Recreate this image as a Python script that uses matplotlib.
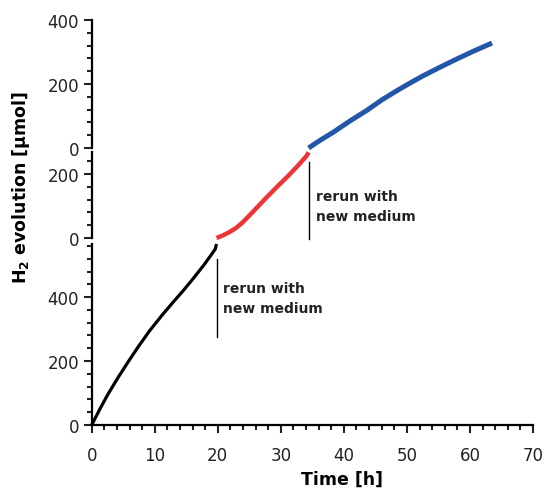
import numpy as np
import matplotlib
matplotlib.use('Agg')
from matplotlib import pyplot as plt
from matplotlib.ticker import MultipleLocator

plt.rcParams['font.family'] = ['DejaVu Sans']

# first run (black)
t_run1 = [0.0, 1.3, 2.6, 4.2, 5.8, 7.5, 9.2, 11.1, 13.0, 14.6, 16.1, 17.9, 19.6, 19.8]
h2_run1 = [0, 50, 97, 149, 198, 248, 295, 342, 386, 422, 458, 503, 550, 566]

# rerun 1 (red)
t_run2 = [19.8, 20.8, 21.8, 22.8, 23.8, 25.0, 26.2, 27.5, 29.4, 31.2, 32.7, 34.1, 34.4]
h2_run2 = [0, 8, 18, 30, 46, 70, 95, 122, 160, 195, 226, 257, 268]

# rerun 2 (blue)
t_run3 = [34.4, 36.3, 38.3, 41.0, 43.6, 46.0, 48.4, 50.5, 52.6, 55.2, 57.9, 60.5, 63.5]
h2_run3 = [0, 25, 49, 85, 117, 150, 179, 203, 226, 252, 278, 302, 328]

xticks = [0, 10, 20, 30, 40, 50, 60, 70]
note = 'rerun with\nnew medium'

W, H = 546, 489
fig = plt.figure(figsize=(W / 100, H / 100), dpi=100)

def box(top, bottom):
    return [91.7 / W, 1 - bottom / H, (533 - 91.7) / W, (bottom - top) / H]

ax_top = fig.add_axes(box(21, 149))
ax_mid = fig.add_axes(box(153, 239))
ax_bot = fig.add_axes(box(245, 426))

for ax in (ax_top, ax_mid, ax_bot):
    ax.set_xlim(0, 70)
    for s in ('top', 'right'):
        ax.spines[s].set_visible(False)
    ax.spines['left'].set_linewidth(1.6)
    ax.spines['bottom'].set_linewidth(1.6)
    ax.yaxis.set_major_locator(MultipleLocator(200))
    ax.yaxis.set_minor_locator(MultipleLocator(40))
    ax.tick_params(axis='y', which='major', length=6, width=1.5, labelsize=12, pad=3, colors='#222222')
    ax.tick_params(axis='y', which='minor', length=3.5, width=1.5, colors='#222222')
    ax.patch.set_visible(False)

for ax in (ax_top, ax_mid):
    ax.spines['bottom'].set_visible(False)
    ax.set_xticks([])

ax_top.set_ylim(0, 400)
ax_mid.set_ylim(0, 269)
ax_bot.set_ylim(0, 566)

ax_bot.set_xticks(xticks)
ax_bot.xaxis.set_minor_locator(MultipleLocator(2))
ax_bot.tick_params(axis='x', which='major', length=6, width=1.5, labelsize=12, pad=9, colors='#222222')
ax_bot.tick_params(axis='x', which='minor', length=3.5, width=1.5, colors='#222222')

ax_bot.plot(t_run1, h2_run1, color='black', lw=2.3, clip_on=False, solid_capstyle='butt')
ax_mid.plot(t_run2, h2_run2, color='#ee3535', lw=3.2, clip_on=False, solid_capstyle='butt')
ax_top.plot(t_run3, h2_run3, color='#2456a8', lw=3.6, clip_on=False, solid_capstyle='butt')

# rerun markers
ax_bot.plot([19.8, 19.8], [275, 519], color='black', lw=1, clip_on=False)
ax_bot.text(20.9, 397, note, fontsize=10, fontweight='bold', va='center', ha='left',
            linespacing=1.5, color='#222222')
ax_mid.plot([34.5, 34.5], [-3, 237], color='black', lw=1, clip_on=False)
ax_mid.text(35.6, 100, note, fontsize=10, fontweight='bold', va='center', ha='left',
            linespacing=1.5, color='#222222')

fig.text(342 / W, 1 - 479.5 / H, 'Time [h]', fontsize=12.5, fontweight='bold',
         ha='center', va='center')
fig.text(21 / W, 1 - 187.5 / H, r'H$_\mathbf{2}$ evolution [µmol]', fontsize=12.5,
         fontweight='bold', rotation=90, ha='center', va='center')

fig.savefig('out.png', dpi=100)
